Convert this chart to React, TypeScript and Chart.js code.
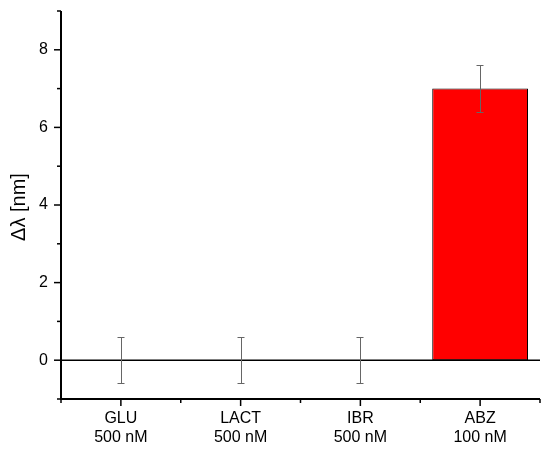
import React, { useEffect, useRef } from "react";
import { Chart, registerables } from "chart.js";

Chart.register(...registerables);

const categories: string[][] = [
  ["GLU", "500 nM"],
  ["LACT", "500 nM"],
  ["IBR", "500 nM"],
  ["ABZ", "100 nM"],
];
const values: number[] = [0, 0, 0, 7.0];
const errors: number[] = [0.6, 0.6, 0.6, 0.6];
const barColors: string[] = ["#ff0000", "#ff0000", "#ff0000", "#ff0000"];
const yMin = -1;
const yMax = 9;
const yTitle = "Δλ [nm]";

const FONT = "'Liberation Sans', Arial, sans-serif";

const axesPlugin = {
  id: "originAxes",
  afterDatasetsDraw(chart: any) {
    const ctx = chart.ctx;
    const x = chart.scales.x;
    const y = chart.scales.y;
    const area = chart.chartArea;
    ctx.save();

    // zero line
    const y0 = y.getPixelForValue(0);
    ctx.strokeStyle = "#000";
    ctx.lineWidth = 1.5;
    ctx.beginPath();
    ctx.moveTo(area.left, y0);
    ctx.lineTo(area.right, y0);
    ctx.stroke();

    // error bars
    ctx.strokeStyle = "#666";
    ctx.lineWidth = 1;
    values.forEach((v, i) => {
      const px = Math.round(x.getPixelForValue(i)) + 0.5;
      const top = Math.round(y.getPixelForValue(v + errors[i])) + 0.5;
      const bot = Math.round(y.getPixelForValue(v - errors[i])) + 0.5;
      ctx.beginPath();
      ctx.moveTo(px, top);
      ctx.lineTo(px, bot);
      ctx.moveTo(px - 4, top);
      ctx.lineTo(px + 3, top);
      ctx.moveTo(px - 4, bot);
      ctx.lineTo(px + 3, bot);
      ctx.stroke();
    });

    // axes lines
    ctx.strokeStyle = "#000";
    ctx.lineWidth = 2;
    ctx.beginPath();
    ctx.moveTo(area.left, area.top);
    ctx.lineTo(area.left, area.bottom);
    ctx.lineTo(area.right, area.bottom);
    ctx.stroke();

    // y ticks
    ctx.lineWidth = 1.5;
    for (let v = yMin; v <= yMax; v++) {
      const py = y.getPixelForValue(v);
      const len = v % 2 === 0 ? 7 : 4;
      ctx.beginPath();
      ctx.moveTo(area.left, py);
      ctx.lineTo(area.left - len, py);
      ctx.stroke();
    }
    // x ticks
    const n = categories.length;
    const w = (area.right - area.left) / n;
    for (let i = 0; i <= n; i++) {
      const px = area.left + i * w;
      ctx.beginPath();
      ctx.moveTo(px, area.bottom);
      ctx.lineTo(px, area.bottom + 4);
      ctx.stroke();
    }
    for (let i = 0; i < n; i++) {
      const px = x.getPixelForValue(i);
      ctx.beginPath();
      ctx.moveTo(px, area.bottom);
      ctx.lineTo(px, area.bottom + 7);
      ctx.stroke();
    }

    // y title
    ctx.fillStyle = "#000";
    ctx.font = `20px ${FONT}`;
    ctx.textAlign = "center";
    ctx.textBaseline = "middle";
    ctx.translate(19, 207);
    ctx.rotate(-Math.PI / 2);
    ctx.fillText(yTitle, 0, 0);
    ctx.restore();
  },
};

export default function App() {
  const ref = useRef<HTMLCanvasElement | null>(null);
  useEffect(() => {
    if (!ref.current) return;
    const chart = new Chart(ref.current, {
      type: "bar",
      data: {
        labels: categories as any,
        datasets: [
          {
            data: values,
            backgroundColor: barColors,
            borderColor: "#000",
            borderWidth: 1,
            borderSkipped: false,
            barPercentage: 0.8,
            categoryPercentage: 1,
          },
        ],
      },
      options: {
        animation: false,
        responsive: false,
        maintainAspectRatio: false,
        layout: { padding: { left: 0, top: 11, right: 10, bottom: 0 } },
        plugins: { legend: { display: false }, tooltip: { enabled: false } },
        scales: {
          x: {
            offset: true,
            grid: { display: false, drawTicks: false },
            border: { display: false },
            ticks: {
              color: "#000",
              font: { family: FONT, size: 16, lineHeight: 1.2 },
              padding: 10,
              maxRotation: 0,
              autoSkip: false,
            },
            afterFit(scale: any) {
              scale.height = 54;
              scale.paddingLeft = 0;
              scale.paddingRight = 0;
            },
          },
          y: {
            min: yMin,
            max: yMax,
            grid: { display: false, drawTicks: false },
            border: { display: false },
            ticks: {
              stepSize: 1,
              color: "#000",
              font: { family: FONT, size: 16 },
              padding: 13,
              callback: (v: any) => (Number(v) % 2 === 0 ? String(v) : ""),
            },
            afterFit(scale: any) {
              scale.width = 61;
              scale.paddingTop = 0;
              scale.paddingBottom = 0;
            },
          },
        },
      },
      plugins: [axesPlugin],
    });
    return () => chart.destroy();
  }, []);
  return (
    <div style={{ position: "absolute", left: 0, top: 0, width: 550, height: 453, background: "#fff" }}>
      <canvas ref={ref} width={550} height={453} style={{ width: 550, height: 453 }} />
    </div>
  );
}
